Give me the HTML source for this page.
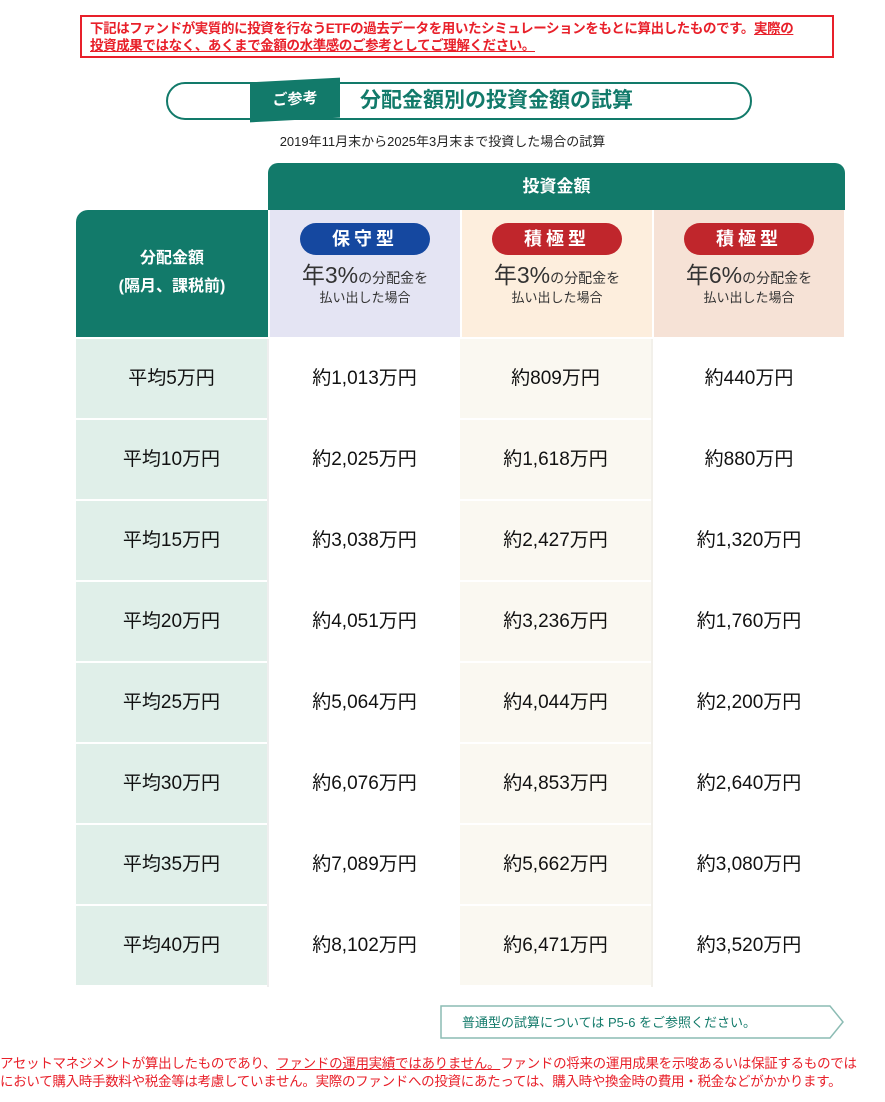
<!DOCTYPE html>
<html><head><meta charset="utf-8"><style>
body{margin:0;width:885px;height:1102px;background:#fff;position:relative;font-family:"Liberation Sans","Noto Sans CJK JP",sans-serif;overflow:hidden}
.a{position:absolute}
.warn{left:80px;top:15px;width:754px;height:43px;border:2px solid #e8202a;box-sizing:border-box;color:#e8202a;font-size:13.5px;line-height:17px;padding:3px 8px;font-weight:bold;letter-spacing:-0.4px;white-space:nowrap;overflow:hidden}
.u{text-decoration:underline}
.title{left:166px;top:82px;width:586px;height:38px;border:2px solid #127a6a;border-radius:20px;box-sizing:border-box}
.tag{left:250px;top:80px;width:90px;height:40px;background:#127a6a;color:#fff;font-weight:bold;font-size:15px;text-align:center;line-height:40px;transform:skewY(-3deg)}
.tt{left:360px;top:86px;color:#127a6a;font-weight:bold;font-size:21px;line-height:30px}
.sub{left:0;width:885px;top:131px;text-align:center;font-size:13px;color:#222}
.hd{left:268px;top:163px;width:577px;height:47px;background:#127a6a;border-radius:10px 10px 0 0;color:#fff;font-weight:bold;font-size:17px;text-align:center;line-height:47px}
.lh{left:76px;top:210px;width:192px;height:127px;background:#127a6a;border-radius:12px 0 0 0;color:#fff;font-weight:bold;font-size:16px;text-align:center;padding-top:35px;box-sizing:border-box;line-height:28px}
.ch{top:210px;width:190px;height:127px;text-align:center;box-sizing:border-box;padding-top:13px;color:#333}
.pill{display:inline-block;width:130px;height:32px;border-radius:16px;color:#fff;font-weight:bold;font-size:18px;line-height:32px;letter-spacing:4px}
.l1{font-size:14px;margin-top:8px;line-height:24px}.l1 b{font-size:23px;font-weight:normal}
.l2{font-size:13px;line-height:16px}
td.cell{height:79px;line-height:79px;padding:0;text-align:center;font-size:19px;color:#111}
</style></head><body>
<div class="a warn">下記はファンドが実質的に投資を行なうETFの過去データを用いたシミュレーションをもとに算出したものです。<span class="u">実際の<br>投資成果ではなく、あくまで金額の水準感のご参考としてご理解ください。</span></div>
<div class="a title"></div>
<div class="a tag">ご参考</div>
<div class="a tt">分配金額別の投資金額の試算</div>
<div class="a sub">2019年11月末から2025年3月末まで投資した場合の試算</div>
<div class="a hd">投資金額</div>
<div class="a lh">分配金額<br>(隔月、課税前)</div>
<div class="a ch" style="left:270px;background:#e4e4f3"><span class="pill" style="background:#1548a0">保守型</span><div class="l1"><b>年3%</b>の分配金を</div><div class="l2">払い出した場合</div></div>
<div class="a ch" style="left:462px;background:#fdeedd"><span class="pill" style="background:#c0262c">積極型</span><div class="l1"><b>年3%</b>の分配金を</div><div class="l2">払い出した場合</div></div>
<div class="a ch" style="left:654px;background:#f6e2d6"><span class="pill" style="background:#c0262c">積極型</span><div class="l1"><b>年6%</b>の分配金を</div><div class="l2">払い出した場合</div></div>
<div class="a" style="left:76px;top:339px;width:769px">
<table style="border-collapse:collapse;width:769px" cellspacing="0" cellpadding="0">
<colgroup><col style="width:192px"><col style="width:192px"><col style="width:192px"><col style="width:193px"></colgroup>
<tbody id="tb"></tbody></table></div>
<script>
var d=[["5","1,013","809","440"],["10","2,025","1,618","880"],["15","3,038","2,427","1,320"],["20","4,051","3,236","1,760"],["25","5,064","4,044","2,200"],["30","6,076","4,853","2,640"],["35","7,089","5,662","3,080"],["40","8,102","6,471","3,520"]];
var h="";d.forEach(function(r){h+='<tr style="border-bottom:2px solid #fff"><td class="cell" style="background:#e0efe9">平均'+r[0]+'万円</td><td class="cell" style="background:#fff;border-left:2px solid #eee">約'+r[1]+'万円</td><td class="cell" style="background:#faf8f1">約'+r[2]+'万円</td><td class="cell" style="background:#fff;border-left:2px solid #f2f0ea">約'+r[3]+'万円</td></tr>'});
document.getElementById("tb").innerHTML=h;
</script>
<svg class="a" style="left:440px;top:1005px" width="405" height="34"><polygon points="1,1 390,1 403,17 390,33 1,33" fill="#fff" stroke="#8cbcb4" stroke-width="1.5"/><text x="22" y="22" font-size="13" fill="#127a6a" font-family="Liberation Sans,Noto Sans CJK JP,sans-serif">普通型の試算については P5-6 をご参照ください。</text></svg>
<div class="a" style="left:0;top:1055px;width:885px;color:#e8202a;font-size:13.5px;line-height:18px;white-space:nowrap;letter-spacing:-0.3px">アセットマネジメントが算出したものであり、<span class="u">ファンドの運用実績ではありません。</span>ファンドの将来の運用成果を示唆あるいは保証するものでは<br>において購入時手数料や税金等は考慮していません。実際のファンドへの投資にあたっては、購入時や換金時の費用・税金などがかかります。</div>
</body></html>
